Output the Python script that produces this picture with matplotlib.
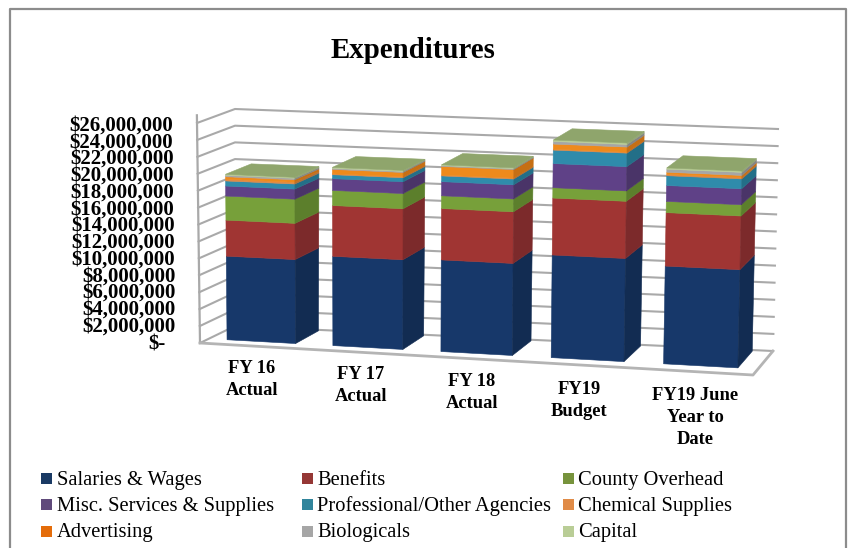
import numpy as np
import matplotlib
matplotlib.use('Agg')
import matplotlib.pyplot as plt
from matplotlib.patches import Polygon, Rectangle

plt.rcParams['font.family'] = ['Liberation Serif', 'DejaVu Serif']

# data, $ millions
categories = ['FY 16\nActual', 'FY 17\nActual', 'FY 18\nActual', 'FY19\nBudget', 'FY19 June\nYear to\nDate']
salaries = [9.9, 10.5, 10.7, 11.9, 11.25]
benefits = [4.27, 5.97, 6.0, 6.6, 6.15]
county = [2.85, 1.78, 1.49, 1.2, 1.29]
misc = [1.19, 1.38, 1.65, 2.8, 1.83]
professional = [0.6, 0.47, 0.67, 1.56, 1.13]
chemical = [0.2, 0.1, 0.1, 0.1, 0.15]
advertising = [0.3, 0.52, 1.0, 0.6, 0.25]
biologicals = [0.17, 0.12, 0.1, 0.3, 0.35]
capital = [0.12, 0.12, 0.1, 0.17, 0.15]

series_names = ['Salaries & Wages', 'Benefits', 'County Overhead',
                'Misc. Services & Supplies', 'Professional/Other Agencies', 'Chemical Supplies',
                'Advertising', 'Biologicals', 'Capital']
series = [salaries, benefits, county, misc, professional, chemical, advertising, biologicals, capital]
front_colors = ['#17386a', '#a03533', '#77a03a', '#5f4187', '#2f8bab', '#e08a46', '#ee8a1c', '#a6a6a6', '#b9cd96']
side_colors = ['#122c52', '#7c2a2b', '#5c7f2c', '#4a3468', '#236f88', '#b36f38', '#c66f14', '#858585', '#94a678']
legend_colors = ['#1a3a64', '#953735', '#77933c', '#604a7b', '#31859c', '#e08b47', '#e46c0a', '#a6a6a6', '#b9cd96']
top_color = '#8fa56c'

y_ticks = np.arange(0, 28, 2)
y_max = 26.0

# corners of the 3d box in image pixels: (across, depth, up)
corners = {(0, 0, 0): (200, 343), (1, 0, 0): (753, 375), (0, 1, 0): (235, 326), (1, 1, 0): (773, 351),
           (0, 0, 1): (197, 123), (1, 0, 1): (758, 146), (0, 1, 1): (235, 109), (1, 1, 1): (778, 129)}


def project(u, d, v):
    # trilinear blend of the corners, with a little perspective across the chart
    u = u - 0.05 * u * (1 - u)
    pt = np.zeros(2)
    for (a, b, c), xy in corners.items():
        w = (u if a else 1 - u) * (d if b else 1 - d) * (v if c else 1 - v)
        pt += w * np.array(xy, dtype=float)
    return pt


fig = plt.figure(figsize=(8.5, 5.48), dpi=100)
ax = fig.add_axes([0, 0, 1, 1])
ax.set_xlim(0, 850)
ax.set_ylim(548, 0)
ax.axis('off')

# outer frame, open at the bottom
ax.plot([10, 10, 846, 846], [548, 9, 9, 548], color='#8c8c8c', lw=1.6)

ax.text(413, 50, 'Expenditures', fontsize=20.8, fontweight='bold', ha='center', va='center')

# walls
grid_color = '#a9a9a9'
for t in y_ticks:
    v = t / y_max
    line = np.array([project(0, 0, v), project(0, 1, v), project(1, 1, v)])
    ax.plot(line[:, 0], line[:, 1], color=grid_color, lw=1.5, zorder=1)
left = np.array([project(0, 0, 0), project(0, 0, 1.035)])
ax.plot(left[:, 0], left[:, 1], color=grid_color, lw=1.6, zorder=1)
floor = np.array([project(0, 0, 0), project(1, 0, 0), project(1, 1, 0)])
ax.plot(floor[:, 0], floor[:, 1], color='#b4b4b4', lw=2, zorder=1)

# y labels
for t in y_ticks:
    y = 344.5 if t == 0 else 326.5 - (t - 2) * 8.375
    label = '$-' if t == 0 else '${:,}'.format(int(t) * 1000000)
    x = 166 if t == 0 else 176 - (t - 2) * 0.125
    ax.text(x, y, label, fontsize=15, fontweight='bold', ha='right', va='center')

# bars
half_width = 0.065
d0, d1 = 0.25, 0.95


def face(points, color, z):
    xy = [project(*p) for p in points]
    ax.add_patch(Polygon(xy, closed=True, facecolor=color, edgecolor=color, lw=0.4, zorder=z))


for i in range(len(categories)):
    u_mid = (i + 0.5) / len(categories)
    u0, u1 = u_mid - half_width, u_mid + half_width
    base = 0.0
    for vals, fc, sc in zip(series, front_colors, side_colors):
        v0 = base / y_max
        v1 = (base + vals[i]) / y_max
        face([(u0, d0, v0), (u1, d0, v0), (u1, d0, v1), (u0, d0, v1)], fc, 3)
        face([(u1, d0, v0), (u1, d1, v0), (u1, d1, v1), (u1, d0, v1)], sc, 3)
        base += vals[i]
    v = base / y_max
    face([(u0, d0, v), (u1, d0, v), (u1, d1, v), (u0, d1, v)], top_color, 4)

# category labels
label_x = [252, 361, 472, 579, 695]
label_y = [368.5, 374.5, 381.5, 389.5, 395.5]
for name, x, y in zip(categories, label_x, label_y):
    for k, part in enumerate(name.split('\n')):
        ax.text(x, y + k * 22, part, fontsize=13.3, fontweight='bold', ha='center', va='center')

# legend
legend_x = [41, 302, 563]
legend_text_x = [57, 317, 578]
legend_y = [478.5, 504.5, 531]
for i, (name, color) in enumerate(zip(series_names, legend_colors)):
    x = legend_x[i % 3]
    y = legend_y[i // 3]
    ax.add_patch(Rectangle((x, y - 5.5), 11, 11, facecolor=color, edgecolor='none'))
    ax.text(legend_text_x[i % 3], y + 2, name, fontsize=14.8, ha='left', va='center')

plt.savefig('out.png', dpi=100)
